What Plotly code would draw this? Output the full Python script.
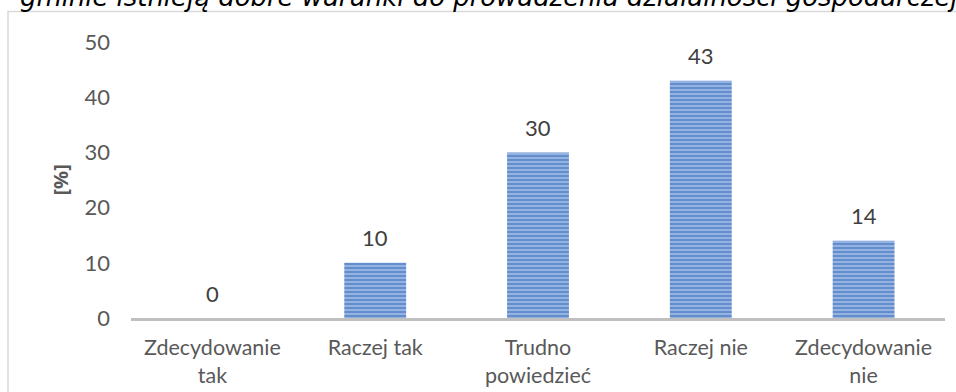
import plotly.graph_objects as go

categories = ["Zdecydowanie<br>tak", "Raczej tak", "Trudno<br>powiedzieć", "Raczej nie", "Zdecydowanie<br>nie"]
values = [0, 10, 30, 43, 14]
y_ticks = [0, 10, 20, 30, 40, 50]
title_text = "gminie istnieją dobre warunki do prowadzenia działalności gospodarczej"
y_title = "[%]"

W, H = 956, 392
L, R, T, B = 131, 11, 42, 74
pw, ph = W - L - R, H - T - B


def px_x(p):
    return (p - L) / pw


def px_y(p):
    return (H - B - p) / ph


fig = go.Figure()
fig.add_trace(go.Bar(
    x=categories,
    y=values,
    marker=dict(
        color="#3a6cc0",
        line=dict(width=0),
        pattern=dict(shape="-", fgcolor="#2a5db0", bgcolor="#9fbce8", size=4, solidity=0.6),
    ),
    hoverinfo="skip",
))

for c, v in zip(categories, values):
    fig.add_annotation(x=c, y=v, text=str(v), showarrow=False, yshift=25,
                       yanchor="middle", font=dict(family="Lato", size=22, color="#404040"))

# outer chart border
fig.add_shape(type="rect", xref="paper", yref="paper",
              x0=px_x(8), x1=px_x(975), y0=px_y(420), y1=px_y(11.5),
              line=dict(color="#d9d9d9", width=1.5), fillcolor="rgba(0,0,0,0)", layer="below")

fig.add_annotation(xref="paper", yref="paper", x=px_x(18), y=px_y(14), xanchor="left", yanchor="bottom",
                   text="<i>" + title_text + "</i>", showarrow=False,
                   font=dict(family="DejaVu Sans", size=25.9, color="#000000"))

fig.add_annotation(xref="paper", yref="paper", x=px_x(44), y=px_y(180), textangle=-90,
                   text="<b>" + y_title + "</b>", showarrow=False,
                   font=dict(family="Noto Sans", size=20, color="#595959", weight="bold"))

fig.update_layout(
    width=W, height=H,
    margin=dict(l=L, r=R, t=T, b=B, autoexpand=False),
    paper_bgcolor="white", plot_bgcolor="white",
    bargap=0.62, showlegend=False,
    font=dict(family="Lato", size=22, color="#595959"),
    xaxis=dict(showline=True, linecolor="#bfbfbf", linewidth=3, showgrid=False, automargin=False,
               ticks="", tickfont=dict(size=21.5, color="#595959"), ticklabelstandoff=8,
               fixedrange=True),
    yaxis=dict(range=[0, 50], tickvals=y_ticks, showgrid=False, zeroline=False, showline=False,
               automargin=False, ticks="", tickfont=dict(size=22, color="#595959"),
               ticklabelstandoff=20, fixedrange=True),
)

fig.write_html("out.html")
